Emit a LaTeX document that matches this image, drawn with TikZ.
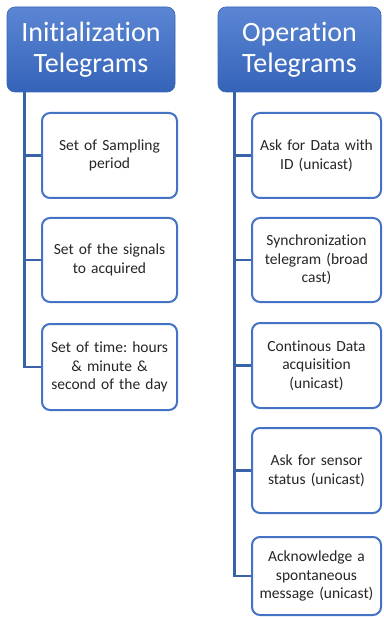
\documentclass[tikz,border=0pt]{standalone}
\usepackage{fontspec}
\setmainfont{Carlito}[RawFeature={-liga}]
\frenchspacing
\definecolor{hdrtop}{HTML}{5B86D4}
\definecolor{hdrbot}{HTML}{3563B8}
\definecolor{boxline}{HTML}{4472C4}
\definecolor{trunkcol}{HTML}{3A62A8}
\tikzset{
  header/.style={rounded corners=8pt, top color=hdrtop, bottom color=hdrbot,
    draw=hdrbot, line width=0.6pt, text=white, align=center,
    font=\fontsize{28}{31}\selectfont, inner sep=0pt},
  item/.style={rounded corners=8pt, draw=boxline, line width=2pt, fill=white,
    align=center, text=black!85, font=\fontsize{15.5}{18.5}\selectfont, inner sep=0pt},
  link/.style={draw=trunkcol, line width=2.5pt}
}
\begin{document}
\begin{tikzpicture}[x=1pt, y=-1pt]

        % Canvas
        \useasboundingbox (0,0) rectangle (383,617);

        % Draw the two headers
        \node[header, minimum width=168pt, minimum height=85pt] (initHdr) at (91,49.5) {Initialization\\Telegrams};
        \node[header, minimum width=163pt, minimum height=85pt] (operHdr) at (299.5,49.5) {Operation\\Telegrams};

        % Trunk start points
        \coordinate (trunkL) at ([xshift=18pt]initHdr.south west);
        \coordinate (trunkR) at ([xshift=17pt]operHdr.south west);

        % Initialization telegrams
        \node[item, minimum width=135pt, minimum height=85pt, text width=128pt] (initA) at (109.5,155.5) {Set of Sampling\\period};
        \node[item, minimum width=135pt, minimum height=84pt, text width=128pt] (initB) at (109.5,260) {Set of the signals\\to acquired};
        \node[item, minimum width=135pt, minimum height=86pt, text width=128pt] (initC) at (109.5,367) {Set of time: hours\\\& minute \&\\second of the day};

        % Operation telegrams
        \node[item, minimum width=129pt, minimum height=85pt, text width=124pt] (operA) at (316.5,155.5) {Ask for Data with\\ID (unicast)};
        \node[item, minimum width=129pt, minimum height=84pt, text width=124pt] (operB) at (316.5,260) {Synchronization\\telegram (broad\\cast)};
        \node[item, minimum width=129pt, minimum height=85pt, text width=124pt] (operC) at (316.5,365.5) {Continous Data\\acquisition\\(unicast)};
        \node[item, minimum width=129pt, minimum height=85pt, text width=124pt] (operD) at (316.5,470.5) {Ask for sensor\\status (unicast)};
        \node[item, minimum width=129pt, minimum height=78pt, text width=124pt] (operE) at (316.5,576) {Acknowledge a\\spontaneous\\message (unicast)};

        % Connectors
        \draw[link] (trunkL) |- (initA.west);
        \draw[link] (trunkL) |- (initB.west);
        \draw[link] (trunkL) |- (initC.west);
        \draw[link] (trunkR) |- (operA.west);
        \draw[link] (trunkR) |- (operB.west);
        \draw[link] (trunkR) |- (operC.west);
        \draw[link] (trunkR) |- (operD.west);
        \draw[link] (trunkR) |- (operE.west);

      \end{tikzpicture}
\end{document}
